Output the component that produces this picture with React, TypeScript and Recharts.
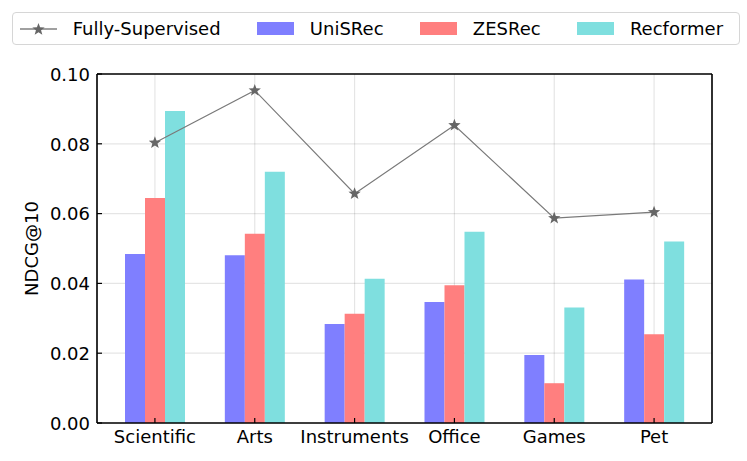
import React from "react";
import {
  ComposedChart,
  Bar,
  Line,
  XAxis,
  YAxis,
  CartesianGrid,
} from "recharts";

const categories = ["Scientific", "Arts", "Instruments", "Office", "Games", "Pet"];
const fullySupervised = [0.0803, 0.0953, 0.0657, 0.0853, 0.0587, 0.0604];
const uniSRec = [0.0484, 0.0481, 0.0284, 0.0347, 0.0195, 0.0411];
const zesRec = [0.0645, 0.0542, 0.0313, 0.0395, 0.0114, 0.0254];
const recformer = [0.0894, 0.072, 0.0413, 0.0548, 0.0331, 0.052];
const yTicks = [0, 0.02, 0.04, 0.06, 0.08, 0.1];

const seriesNames = ["Fully-Supervised", "UniSRec", "ZESRec", "Recformer"];
const barColors = ["#7f7fff", "#ff7f7f", "#7fdfdf"];

const data = categories.map((name, i) => ({
  name,
  full: fullySupervised[i],
  uni: uniSRec[i],
  zes: zesRec[i],
  rec: recformer[i],
}));

const FONT = "'DejaVu Sans', sans-serif";

function starPath(cx: number, cy: number, R: number, r: number) {
  const pts: string[] = [];
  for (let k = 0; k < 10; k++) {
    const rad = k % 2 === 0 ? R : r;
    const a = -Math.PI / 2 + (k * Math.PI) / 5;
    pts.push(`${cx + rad * Math.cos(a)},${cy + rad * Math.sin(a)}`);
  }
  return `M${pts.join("L")}Z`;
}

const StarDot = (props: any) => {
  const { cx, cy, index } = props;
  if (cx == null || cy == null) return <g key={index} />;
  return <path key={index} d={starPath(cx, cy, 6.5, 2.7)} fill="#666666" />;
};

const XTick = (props: any) => {
  const { x, y, payload } = props;
  return (
    <g>
      <line x1={x} x2={x} y1={y} y2={y - 5} stroke="#000" strokeWidth={1.2} />
      <text x={x} y={y + 20} textAnchor="middle" fontSize={18} fontFamily={FONT} fill="#000">
        {payload.value}
      </text>
    </g>
  );
};

const YTick = (props: any) => {
  const { x, y, payload } = props;
  return (
    <g>
      <line x1={x} x2={x + 5} y1={y} y2={y} stroke="#000" strokeWidth={1.2} />
      <text x={x - 7} y={y + 6.8} textAnchor="end" fontSize={18} fontFamily={FONT} fill="#000">
        {payload.value.toFixed(2)}
      </text>
    </g>
  );
};

const labelStyle: React.CSSProperties = {
  marginLeft: 15.7,
  marginRight: 36.6,
  whiteSpace: "nowrap",
  flex: "none",
};

function LegendBox() {
  return (
    <div
      style={{
        position: "absolute",
        left: 12,
        top: 12,
        width: 719,
        height: 31,
        border: "1.5px solid #d6d6d6",
        borderRadius: 4,
        background: "#fff",
        display: "flex",
        alignItems: "center",
        paddingLeft: 7,
        fontFamily: FONT,
        fontSize: 18,
        color: "#000",
        boxSizing: "content-box",
        whiteSpace: "nowrap",
      }}
    >
      <svg width={37} height={14} style={{ flex: "none" }}>
        <line x1={0} x2={37} y1={7} y2={7} stroke="#808080" strokeWidth={1.3} />
        <path d={starPath(18.5, 7.5, 6.5, 2.7)} fill="#666666" />
      </svg>
      <span style={labelStyle}>{seriesNames[0]}</span>
      {barColors.map((c, i) => (
        <React.Fragment key={c}>
          <span style={{ width: 37, height: 13, background: c, flex: "none" }} />
          <span style={labelStyle}>{seriesNames[i + 1]}</span>
        </React.Fragment>
      ))}
    </div>
  );
}

export default function App() {
  return (
    <div
      style={{
        position: "absolute",
        left: 0,
        top: 0,
        width: 747,
        height: 461,
        background: "#fff",
        fontFamily: FONT,
      }}
    >
      <ComposedChart
        width={747}
        height={461}
        data={data}
        margin={{ top: 73, right: 34, bottom: 0, left: 0 }}
        barGap={0}
      >
        <XAxis
          dataKey="name"
          type="category"
          padding={{ left: 8, right: 8 }}
          height={38}
          tickSize={0}
          tickMargin={0}
          tickLine={false}
          axisLine={{ stroke: "#000", strokeWidth: 1.6 }}
          tick={<XTick />}
          interval={0}
        />
        <XAxis
          xAxisId="top"
          dataKey="name"
          orientation="top"
          padding={{ left: 8, right: 8 }}
          height={1}
          tickSize={0}
          tick={false}
          tickLine={false}
          axisLine={{ stroke: "#000", strokeWidth: 1.6 }}
        />
        <YAxis
          domain={[0, 0.1]}
          ticks={yTicks}
          width={97}
          tickSize={0}
          tickMargin={0}
          tickLine={false}
          axisLine={{ stroke: "#000", strokeWidth: 1.6 }}
          tick={<YTick />}
          allowDataOverflow
          label={{
            value: "NDCG@10",
            angle: -90,
            position: "insideLeft",
            offset: 0,
            dx: 32,
            style: { fontSize: 18, fontFamily: FONT, fill: "#000", textAnchor: "middle" },
          }}
        />
        <YAxis
          yAxisId="right"
          orientation="right"
          domain={[0, 0.1]}
          width={1}
          tickSize={0}
          tick={false}
          tickLine={false}
          axisLine={{ stroke: "#000", strokeWidth: 1.6 }}
        />
        <Bar dataKey="uni" name={seriesNames[1]} fill={barColors[0]} barSize={20} isAnimationActive={false} />
        <Bar dataKey="zes" name={seriesNames[2]} fill={barColors[1]} barSize={20} isAnimationActive={false} />
        <Bar dataKey="rec" name={seriesNames[3]} fill={barColors[2]} barSize={20} isAnimationActive={false} />
        <CartesianGrid stroke="#000" strokeOpacity={0.1} strokeWidth={1.2} />
        <Line
          dataKey="full"
          name={seriesNames[0]}
          type="linear"
          stroke="#7a7a7a"
          strokeWidth={1.2}
          dot={StarDot}
          activeDot={false}
          isAnimationActive={false}
        />
      </ComposedChart>
      <LegendBox />
    </div>
  );
}
